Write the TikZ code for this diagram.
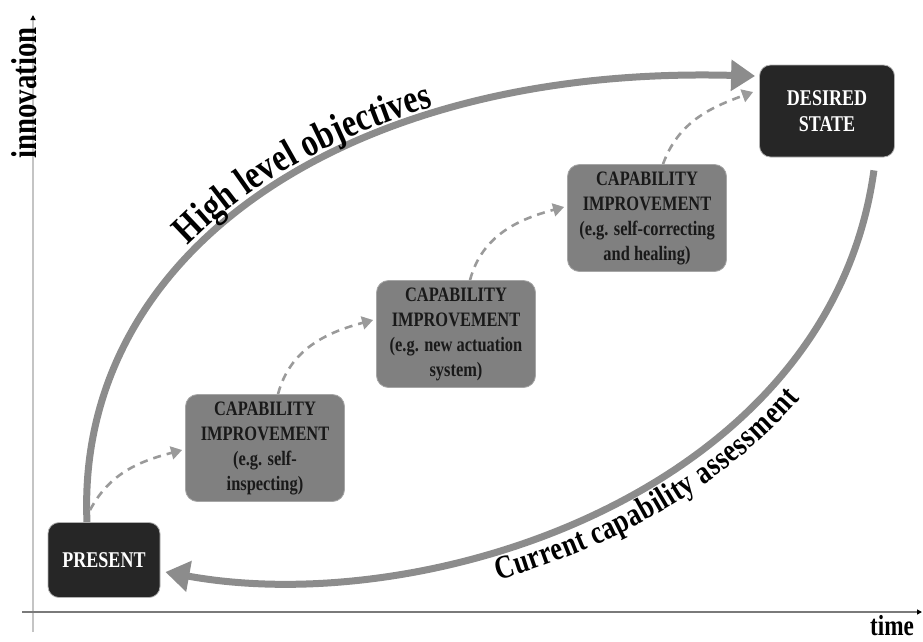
\documentclass[tikz,border=0pt]{standalone}
\usepackage{fontspec}
\setmainfont{Liberation Serif}[FakeStretch=0.8]
\usetikzlibrary{arrows.meta,decorations.text}

\definecolor{boxdark}{HTML}{262626}
\definecolor{boxgray}{HTML}{808080}
\definecolor{arcgray}{HTML}{8C8C8C}
\definecolor{dashgray}{HTML}{9A9A9A}
\definecolor{axisgray}{HTML}{7A7A7A}
\definecolor{axislight}{HTML}{C4C4C4}

\newcommand\arcfontbig{\bfseries\fontsize{40}{40}\selectfont}
\newcommand\arcfontlow{\bfseries\fontsize{33}{33}\selectfont}

\begin{document}
\begin{tikzpicture}[x=1pt,y=-1pt,
  darkbox/.style={rounded corners=11pt, fill=boxdark, draw=gray!60, line width=0.8pt,
    text=white, font=\bfseries\fontsize{22.5}{26}\selectfont, align=center, inner sep=0pt},
  capbox/.style={rounded corners=12pt, fill=boxgray, draw=gray!70, line width=0.8pt,
    text=black!90, font=\bfseries\fontsize{20.5}{25}\selectfont, align=center,
    minimum width=159pt, minimum height=107pt, inner sep=0pt},
  bigarc/.style={draw=arcgray, line width=7pt, -{Triangle[length=24pt,width=30pt]}},
  steparrow/.style={draw=dashgray, line width=2.6pt, dash pattern=on 8pt off 6pt,
    -{Triangle[length=11pt,width=13pt]}},
  axislabel/.style={font=\bfseries\fontsize{#1}{#1}\selectfont, inner sep=0pt},
]
\useasboundingbox (0,0) rectangle (923,641);

% axes
\coordinate (ybot) at (33,632);
\coordinate (ytop) at (33,15);
\coordinate (xleft) at (22,612);
\coordinate (xright) at (922,612);
\draw[axislight, line width=1.5pt, -{Triangle[length=5pt,width=5pt,black]}] (ybot) -- (ytop);
\draw[axisgray, line width=1.8pt, -{Triangle[length=5pt,width=5pt,black]}] (xleft) -- (xright);
\node[axislabel=36, rotate=90] (ylabel) at (24,93) {innovation};
\node[axislabel=29, anchor=base] (xlabel) at (892,635) {time};

% states
\node[darkbox, minimum width=112pt, minimum height=75pt] (present) at (104,560) {PRESENT};
\node[darkbox, minimum width=135pt, minimum height=92pt] (desired) at (827,111) {DESIRED\\STATE};

% capability steps
\node[capbox] (cap1) at (265,448) {CAPABILITY\\IMPROVEMENT\\(e.g. self-\\inspecting)};
\node[capbox] (cap2) at (456,334) {CAPABILITY\\IMPROVEMENT\\(e.g. new actuation\\system)};
\node[capbox] (cap3) at (647,218) {CAPABILITY\\IMPROVEMENT\\(e.g. self-correcting\\and healing)};

% high level objectives arc
\draw[bigarc] ([xshift=-17pt]present.north) .. controls (75,250) and (350,65) ..
  ([xshift=-4pt,yshift=35pt]desired.west);
\path[decorate, decoration={text along path, text={|\arcfontbig|High level objectives},
    raise=8pt, text align={left indent=300pt}}]
  (87,522) .. controls (75,250) and (350,65) .. (755,76);

% current capability assessment arc
\draw[bigarc] ([xshift=-21pt,yshift=-13pt]desired.south east) .. controls (830,490) and (430,620) ..
  ([xshift=5pt,yshift=-12pt]present.east);
\path[decorate, decoration={text along path, text={|\arcfontlow|Current capability assessment},
    raise=-30pt, text align={left indent=328pt}}]
  (165,572) .. controls (430,620) and (830,490) .. (873,170);

% step arrows
\draw[steparrow] ([xshift=-14pt,yshift=12pt]present.north) to[out=62,in=195] ([xshift=-3pt,yshift=-2pt]cap1.west);
\draw[steparrow] ([xshift=13pt]cap1.north) to[out=75,in=195] ([xshift=-3pt,yshift=14pt]cap2.west);
\draw[steparrow] ([xshift=14pt]cap2.north) to[out=75,in=195] ([xshift=-3pt,yshift=11pt]cap3.west);
\draw[steparrow] ([xshift=16pt]cap3.north) to[out=70,in=200] ([xshift=-6pt,yshift=19pt]desired.west);
\end{tikzpicture}
\end{document}
